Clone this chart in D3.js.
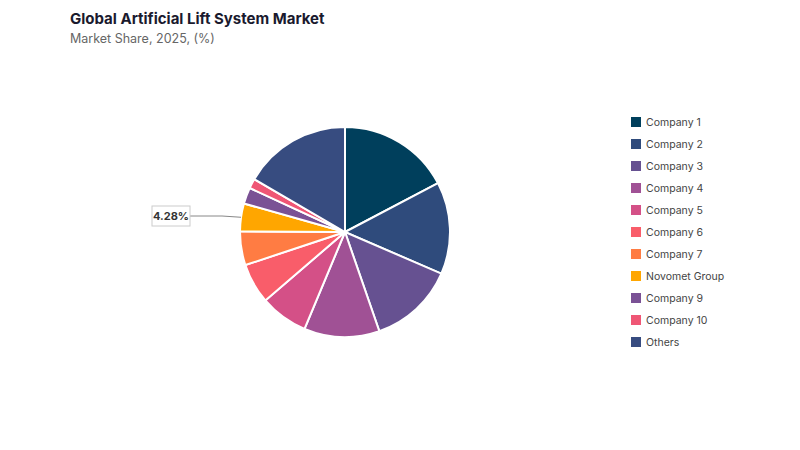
<!DOCTYPE html>
<html><head><meta charset="utf-8">
<script src="https://cdn.jsdelivr.net/npm/d3@7"></script>
<style>body{margin:0;background:#fff;font-family:Inter,"Noto Sans",sans-serif}</style>
</head><body><svg id="c" width="800" height="450"></svg>
<script>
const categories=["Company 1","Company 2","Company 3","Company 4","Company 5","Company 6","Company 7","Novomet Group","Company 9","Company 10","Others"];
const values=[17.3,14.2,13.2,11.6,7.4,6.2,5.2,4.28,2.5,1.5,16.62];
const colors=["#003f5c","#2f4b7c","#665191","#a05195","#d45087","#f95d6a","#ff7c43","#ffa600","#7a5195","#ef5675","#374c80"];
const svg=d3.select("#c");
svg.append("text").attr("x",70).attr("y",24).attr("font-size",15).attr("font-weight",700).attr("fill","#1a1a2e").text("Global Artificial Lift System Market");
svg.append("text").attr("x",70).attr("y",43).attr("font-size",12.5).attr("fill","#666").text("Market Share, 2025, (%)");
const cx=345,cy=232,r=105;
const pie=d3.pie().sort(null).value(d=>d)(values);
const arc=d3.arc().innerRadius(0).outerRadius(r);
const g=svg.append("g").attr("transform",`translate(${cx},${cy})`);
g.selectAll("path").data(pie).join("path").attr("d",arc).attr("fill",(d,i)=>colors[i]).attr("stroke","#fff").attr("stroke-width",2);
// label for Novomet
const nd=pie[7];const a=(nd.startAngle+nd.endAngle)/2;
const px=cx+Math.sin(a)*r, py=cy-Math.cos(a)*r;
svg.append("path").attr("d",`M${px},${py} L${222},${216} L${190},${216}`).attr("fill","none").attr("stroke","#888").attr("stroke-width",1);
svg.append("rect").attr("x",152).attr("y",206).attr("width",38).attr("height",20).attr("fill","#fff").attr("stroke","#ccc");
svg.append("text").attr("x",171).attr("y",220).attr("text-anchor","middle").attr("font-size",11).attr("font-weight",700).attr("fill","#333").text(d3.format(".2f")(values[7])+"%");
const lg=svg.append("g");
categories.forEach((c,i)=>{
  const y=122+i*22;
  lg.append("rect").attr("x",631).attr("y",y-5).attr("width",10).attr("height",10).attr("fill",colors[i]);
  lg.append("text").attr("x",646).attr("y",y+4).attr("font-size",10.5).attr("fill","#444").text(c);
});
</script></body></html>
